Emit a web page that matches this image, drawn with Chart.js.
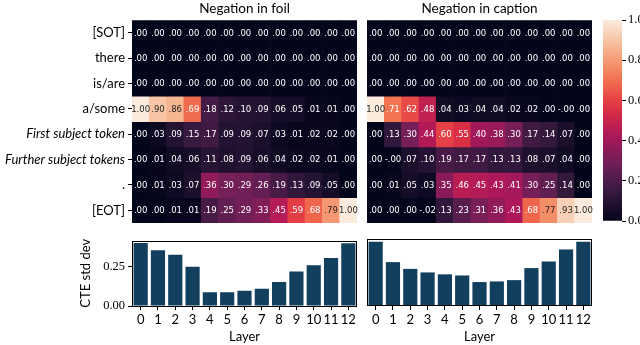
<!DOCTYPE html>
<html>
<head>
<meta charset="utf-8">
<script src="https://cdn.jsdelivr.net/npm/chart.js@4.4.0/dist/chart.umd.min.js"></script>
<style>
html, body { margin: 0; padding: 0; background: #fff; }
#wrap { position: relative; width: 640px; height: 345px; overflow: hidden; }
.box { position: absolute; }
</style>
</head>
<body>
<div id="wrap">
    <div class="box" style="left:0;top:0;"><canvas id="hmFoil" width="360" height="235"></canvas></div>
    <div class="box" style="left:360px;top:0;"><canvas id="hmCap" width="240" height="235"></canvas></div>
    <div class="box" style="left:595px;top:0;"><canvas id="cbar" width="45" height="235"></canvas></div>
    <div class="box" style="left:0;top:230px;"><canvas id="barFoil" width="360" height="115"></canvas></div>
    <div class="box" style="left:360px;top:230px;"><canvas id="barCap" width="240" height="115"></canvas></div>
</div>
<script>
// data
var layers = ['0', '1', '2', '3', '4', '5', '6', '7', '8', '9', '10', '11', '12'];
var rowLabels = ['[SOT]', 'there', 'is/are', 'a/some', 'First subject token', 'Further subject tokens', '.', '[EOT]'];
var italicRows = [4, 5];

var foilValues = [
    [0, 0, 0, 0, 0, 0, 0, 0, 0, 0, 0, 0, 0],
    [0, 0, 0, 0, 0, 0, 0, 0, 0, 0, 0, 0, 0],
    [0, 0, 0, 0, 0, 0, 0, 0, 0, 0, 0, 0, 0],
    [1.00, 0.90, 0.86, 0.69, 0.18, 0.12, 0.10, 0.09, 0.06, 0.05, 0.01, 0.01, 0.00],
    [0.00, 0.03, 0.09, 0.15, 0.17, 0.09, 0.09, 0.07, 0.03, 0.01, 0.02, 0.02, 0.00],
    [0.00, 0.01, 0.04, 0.06, 0.11, 0.08, 0.09, 0.06, 0.04, 0.02, 0.02, 0.01, 0.00],
    [0.00, 0.01, 0.03, 0.07, 0.36, 0.30, 0.29, 0.26, 0.19, 0.13, 0.09, 0.05, 0.00],
    [0.00, 0.00, 0.01, 0.01, 0.19, 0.25, 0.29, 0.33, 0.45, 0.59, 0.68, 0.79, 1.00]
];
var captionValues = [
    [0, 0, 0, 0, 0, 0, 0, 0, 0, 0, 0, 0, 0],
    [0, 0, 0, 0, 0, 0, 0, 0, 0, 0, 0, 0, 0],
    [0, 0, 0, 0, 0, 0, 0, 0, 0, 0, 0, 0, 0],
    [1.00, 0.71, 0.62, 0.48, 0.04, 0.03, 0.04, 0.04, 0.02, 0.02, 0.00, -0.001, 0.00],
    [0.00, 0.13, 0.30, 0.44, 0.60, 0.55, 0.40, 0.38, 0.30, 0.17, 0.14, 0.07, 0.00],
    [0.00, -0.001, 0.07, 0.10, 0.19, 0.17, 0.17, 0.13, 0.13, 0.08, 0.07, 0.04, 0.00],
    [0.00, 0.01, 0.05, 0.03, 0.35, 0.46, 0.45, 0.43, 0.41, 0.30, 0.25, 0.14, 0.00],
    [0.00, 0.00, 0.00, -0.02, 0.13, 0.23, 0.31, 0.36, 0.43, 0.68, 0.77, 0.93, 1.00]
];
var foilStd = [0.401, 0.355, 0.327, 0.25, 0.087, 0.088, 0.097, 0.11, 0.153, 0.219, 0.26, 0.306, 0.40];
var captionStd = [0.40, 0.273, 0.231, 0.209, 0.197, 0.19, 0.149, 0.153, 0.161, 0.236, 0.277, 0.352, 0.40];
var stdTicks = [0, 0.25];
var cbarTicks = [0, 0.2, 0.4, 0.6, 0.8, 1.0];

// rocket colormap, sampled
var rocketStops = [[3, 5, 26], [53, 25, 62], [112, 31, 87], [173, 23, 89], [225, 51, 66], [243, 118, 81], [246, 180, 143], [250, 235, 221]];
var barColor = '#123f5e';
var sans = 'Lato';
var serif = '"Liberation Serif"';

function rocketRgb(v) {
    v = Math.max(0, Math.min(1, v));
    var p = v * 7, i = Math.min(6, Math.floor(p)), t = p - i;
    var a = rocketStops[i], b = rocketStops[i + 1];
    return [0, 1, 2].map(function (k) { return Math.round(a[k] + (b[k] - a[k]) * t); });
}
function rocket(v) {
    return 'rgb(' + rocketRgb(v).join(',') + ')';
}
function textColor(v) {
    var c = rocketRgb(v).map(function (x) {
        x = x / 255;
        return x <= 0.03928 ? x / 12.92 : Math.pow((x + 0.055) / 1.055, 2.4);
    });
    var lum = 0.2126 * c[0] + 0.7152 * c[1] + 0.0722 * c[2];
    return lum > 0.38 ? '#262626' : '#ffffff';
}
function fmt(v) {
    return v.toFixed(2).replace('0.', '.');
}

// numbers in the cells
var cellText = {
    id: 'cellText',
    afterDatasetsDraw: function (chart) {
        var ctx = chart.ctx;
        ctx.save();
        ctx.font = '8.5px "DejaVu Sans"';
        ctx.textAlign = 'center';
        ctx.textBaseline = 'middle';
        chart.data.datasets.forEach(function (ds, r) {
            var meta = chart.getDatasetMeta(r);
            meta.data.forEach(function (bar, j) {
                var v = ds.values[j];
                ctx.fillStyle = textColor(v);
                ctx.fillText(fmt(v), bar.x, (bar.y + bar.base) / 2 + 0.5);
            });
        });
        ctx.restore();
    }
};

// box around the bar panels
var frame = {
    id: 'frame',
    afterDraw: function (chart) {
        var a = chart.chartArea, ctx = chart.ctx;
        ctx.save();
        ctx.strokeStyle = '#000';
        ctx.lineWidth = 1;
        ctx.strokeRect(Math.round(a.left) + 0.5, Math.round(a.top) + 0.5,
            Math.round(a.right - a.left) - 1, Math.round(a.bottom - a.top) - 1);
        ctx.restore();
    }
};

Chart.defaults.animation = false;
Chart.defaults.responsive = false;
Chart.defaults.color = '#000';
Chart.defaults.plugins.legend.display = false;
Chart.defaults.plugins.tooltip.enabled = false;

function heatConfig(values, title, showRows, pad) {
    var datasets = values.map(function (row, r) {
        return {
            data: row.map(function () { return [r - 0.5, r + 0.5]; }),
            values: row,
            backgroundColor: row.map(rocket),
            borderWidth: 0,
            grouped: false,
            categoryPercentage: 1,
            barPercentage: 1
        };
    });
    return {
        type: 'bar',
        data: { labels: layers, datasets: datasets },
        options: {
            layout: { padding: pad },
            plugins: {
                title: {
                    display: true, text: title, fullSize: false, color: '#000',
                    font: { family: sans, size: 13.5, weight: 'normal' },
                    padding: { top: 1, bottom: 3 }
                }
            },
            scales: {
                x: { display: false },
                y: {
                    type: 'linear', reverse: true, min: -0.5, max: 7.5,
                    display: showRows,
                    afterBuildTicks: function (s) {
                        s.ticks = rowLabels.map(function (l, i) { return { value: i }; });
                    },
                    afterFit: function (s) { s.width = showRows ? 132 : 0; },
                    ticks: {
                        color: '#000', padding: 3,
                        callback: function (v) { return rowLabels[v]; },
                        font: function (c) {
                            var it = italicRows.indexOf(c.index) >= 0;
                            return { family: sans, size: 13, style: it ? 'italic' : 'normal' };
                        }
                    },
                    grid: { drawOnChartArea: false, tickLength: 4, color: '#000', tickWidth: 1 },
                    border: { display: false }
                }
            }
        },
        plugins: [cellText]
    };
}

function barConfig(values, showY, pad) {
    return {
        type: 'bar',
        data: {
            labels: layers,
            datasets: [{
                data: values,
                backgroundColor: barColor,
                borderWidth: 0,
                categoryPercentage: 1,
                barPercentage: 0.82
            }]
        },
        options: {
            layout: { padding: pad },
            scales: {
                x: {
                    afterFit: function (s) { s.height = 39; },
                    grid: { offset: false, drawOnChartArea: false, tickLength: 4, color: '#000' },
                    border: { display: false },
                    ticks: { color: '#000', padding: 2, maxRotation: 0, autoSkip: false, font: { family: sans, size: 13 } },
                    title: { display: true, text: 'Layer', color: '#000', font: { family: sans, size: 13 }, padding: { top: 0, bottom: 0 } }
                },
                y: {
                    min: 0, max: 0.417,
                    display: showY,
                    afterBuildTicks: function (s) {
                        s.ticks = stdTicks.map(function (v) { return { value: v }; });
                    },
                    afterFit: function (s) { s.width = showY ? 54 : 0; },
                    ticks: { color: '#000', padding: 3, font: { family: serif, size: 12.5 }, callback: function (v) { return v.toFixed(2); } },
                    grid: { drawOnChartArea: false, tickLength: 4, color: '#000' },
                    border: { display: false },
                    title: { display: true, text: 'CTE std dev', color: '#000', font: { family: sans, size: 13 }, padding: { top: 0, bottom: 0 } }
                }
            }
        },
        plugins: [frame]
    };
}

new Chart(document.getElementById('hmFoil'), heatConfig(foilValues, 'Negation in foil', true, { top: 0, right: 3, bottom: 12, left: 0 }));
new Chart(document.getElementById('hmCap'), heatConfig(captionValues, 'Negation in caption', false, { top: 0, right: 8, bottom: 12, left: 7 }));

new Chart(document.getElementById('barFoil'), barConfig(foilStd, true, { top: 9, right: 3, bottom: 0, left: 78 }));
new Chart(document.getElementById('barCap'), barConfig(captionStd, false, { top: 9, right: 8, bottom: 0, left: 7 }));

// colorbar
new Chart(document.getElementById('cbar'), {
    type: 'bar',
    data: {
        labels: [''],
        datasets: [{
            data: [[0, 1]],
            categoryPercentage: 1,
            barPercentage: 1,
            borderWidth: 0,
            backgroundColor: function (c) {
                var a = c.chart.chartArea;
                if (!a) return rocket(0.5);
                var g = c.chart.ctx.createLinearGradient(0, a.bottom, 0, a.top);
                for (var k = 0; k <= 20; k++) g.addColorStop(k / 20, rocket(k / 20));
                return g;
            }
        }]
    },
    options: {
        layout: { padding: { top: 20, right: 0, bottom: 14, left: 8 } },
        scales: {
            x: { display: false },
            y: {
                position: 'right', min: 0, max: 1,
                afterBuildTicks: function (s) {
                    s.ticks = cbarTicks.map(function (v) { return { value: v }; });
                },
                afterFit: function (s) { s.width = 18; },
                ticks: { color: '#000', padding: 2, font: { family: serif, size: 12.5 }, callback: function (v) { return v.toFixed(1); } },
                grid: { drawOnChartArea: false, tickLength: 4, color: '#000' },
                border: { display: false }
            }
        }
    }
});
</script>
</body>
</html>
